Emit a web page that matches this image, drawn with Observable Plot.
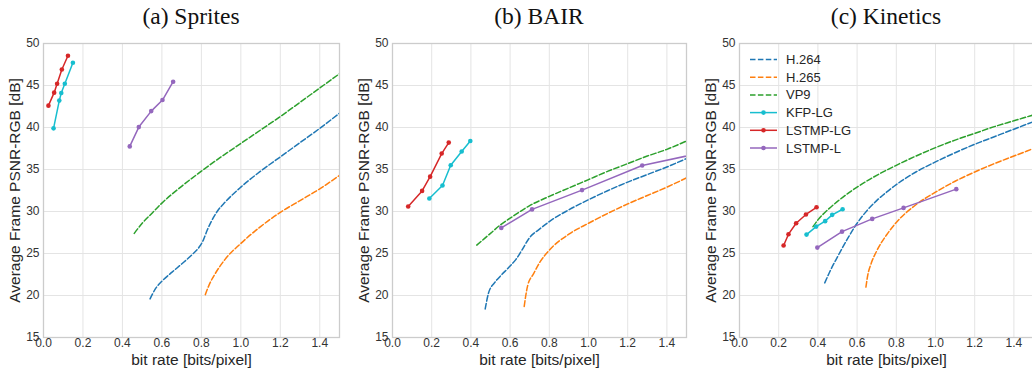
<!DOCTYPE html>
<html><head><meta charset="utf-8">
<script src="https://cdn.jsdelivr.net/npm/d3@7"></script>
<script src="https://cdn.jsdelivr.net/npm/@observablehq/plot@0.6"></script>
<style>
body{margin:0;background:#fff;}
#wrap{position:relative;width:1032px;height:368px;overflow:hidden;background:#fff;}
.panel{position:absolute;top:0;width:345px;height:368px;}
.title{font-family:"Liberation Serif",serif;font-size:23.5px;color:#111;text-align:center;height:30px;line-height:30px;box-sizing:border-box;padding-top:1px;white-space:nowrap;}
.panel svg{display:block;}
#legend{position:absolute;left:0;top:0;pointer-events:none;}
</style></head>
<body><div id="wrap"></div>
<script>
// ---- labels ----
const series = ["H.264", "H.265", "VP9", "KFP-LG", "LSTMP-LG", "LSTMP-L"];
const colors = ["#1f77b4", "#ff7f0e", "#2ca02c", "#17becf", "#d62728", "#9467bd"];
const dashed = [true, true, true, false, false, false];
const panelTitles = ["(a) Sprites", "(b) BAIR", "(c) Kinetics"];
const xLabel = "bit rate [bits/pixel]";
const yLabel = "Average Frame PSNR-RGB [dB]";
const xTicks = [0, 0.2, 0.4, 0.6, 0.8, 1.0, 1.2, 1.4];
const yTicks = [15, 20, 25, 30, 35, 40, 45, 50];

// ---- (a) Sprites: [bit rate, PSNR] ----
const spritesH264 = [[0.54,19.6],[0.57,20.9],[0.6,21.7],[0.65,22.75],[0.7,23.75],[0.75,24.8],[0.79,25.8],[0.81,26.6],[0.83,27.8],[0.85,28.8],[0.88,30.0],[0.92,31.1],[1.0,32.9],[1.1,34.8],[1.2,36.5],[1.3,38.2],[1.4,39.9],[1.5,41.7]];
const spritesH265 = [[0.82,20.1],[0.84,21.3],[0.87,22.6],[0.92,24.3],[1.0,26.2],[1.1,28.2],[1.2,29.9],[1.3,31.3],[1.4,32.7],[1.5,34.3]];
const spritesVP9 = [[0.46,27.4],[0.5,28.6],[0.55,29.8],[0.6,31.0],[0.7,33.0],[0.8,34.8],[0.9,36.5],[1.0,38.1],[1.1,39.7],[1.2,41.3],[1.3,43.0],[1.4,44.7],[1.5,46.4]];
const spritesKFP = [[0.051,39.9],[0.080,43.2],[0.090,44.1],[0.108,45.2],[0.149,47.7]];
const spritesLSTMPLG = [[0.025,42.6],[0.054,44.15],[0.069,45.2],[0.093,46.9],[0.124,48.55]];
const spritesLSTMPL = [[0.437,37.75],[0.483,40.05],[0.546,41.95],[0.603,43.27],[0.657,45.45]];

// ---- (b) BAIR ----
const bairH264 = [[0.473,18.4],[0.49,20.3],[0.52,21.5],[0.55,22.3],[0.6,23.5],[0.63,24.3],[0.66,25.4],[0.7,26.9],[0.75,27.9],[0.8,28.8],[0.9,30.2],[1.0,31.4],[1.1,32.5],[1.2,33.5],[1.3,34.4],[1.4,35.3],[1.5,36.3]];
const bairH265 = [[0.672,18.7],[0.68,20.0],[0.69,21.2],[0.72,22.6],[0.75,23.9],[0.8,25.4],[0.9,27.3],[1.0,28.6],[1.1,29.8],[1.2,30.9],[1.3,31.9],[1.4,32.9],[1.5,34.0]];
const bairVP9 = [[0.43,26.0],[0.5,27.4],[0.55,28.4],[0.6,29.2],[0.7,30.7],[0.8,31.8],[0.9,32.8],[1.0,33.8],[1.1,34.8],[1.2,35.7],[1.3,36.6],[1.4,37.4],[1.5,38.4]];
const bairKFP = [[0.188,31.55],[0.255,33.1],[0.297,35.5],[0.353,37.15],[0.397,38.4]];
const bairLSTMPLG = [[0.080,30.6],[0.151,32.45],[0.192,34.15],[0.251,36.9],[0.287,38.2]];
const bairLSTMPL = [[0.555,28.05],[0.712,30.25],[0.967,32.55],[1.274,35.48],[1.6,37.1]];

// ---- (c) Kinetics ----
const kineticsH264 = [[0.435,21.5],[0.46,22.8],[0.5,24.6],[0.55,26.7],[0.6,28.6],[0.65,30.1],[0.7,31.3],[0.75,32.3],[0.8,33.2],[0.9,34.7],[1.0,35.9],[1.1,37.0],[1.2,38.0],[1.3,38.9],[1.4,39.8],[1.5,40.7]];
const kineticsH265 = [[0.645,21.0],[0.655,22.5],[0.67,23.7],[0.7,25.3],[0.75,27.2],[0.8,28.7],[0.9,30.8],[1.0,32.3],[1.1,33.6],[1.2,34.7],[1.3,35.7],[1.4,36.6],[1.5,37.5]];
const kineticsVP9 = [[0.375,28.2],[0.4,29.0],[0.45,30.2],[0.5,31.2],[0.55,32.1],[0.6,32.9],[0.7,34.3],[0.8,35.5],[0.9,36.6],[1.0,37.6],[1.1,38.5],[1.2,39.3],[1.3,40.1],[1.4,40.8],[1.5,41.5]];
const kineticsKFP = [[0.342,27.25],[0.391,28.2],[0.437,28.85],[0.473,29.6],[0.526,30.27]];
const kineticsLSTMPLG = [[0.225,25.95],[0.250,27.3],[0.289,28.6],[0.339,29.65],[0.393,30.5]];
const kineticsLSTMPL = [[0.397,25.7],[0.523,27.6],[0.677,29.12],[0.837,30.43],[1.106,32.66]];

const panelData = [
  [spritesH264, spritesH265, spritesVP9, spritesKFP, spritesLSTMPLG, spritesLSTMPL],
  [bairH264, bairH265, bairVP9, bairKFP, bairLSTMPLG, bairLSTMPL],
  [kineticsH264, kineticsH265, kineticsVP9, kineticsKFP, kineticsLSTMPLG, kineticsLSTMPL]
];

// layout
const panelLeft = [0, 345, 690];
const mLeft = [43, 47, 49];
const mRight = [6, 4, 2];

const wrap = document.getElementById("wrap");
panelData.forEach((sets, p) => {
  const div = document.createElement("div");
  div.className = "panel";
  div.style.left = panelLeft[p] + "px";
  const t = document.createElement("div");
  t.className = "title";
  t.style.paddingLeft = mLeft[p] + "px";
  t.style.paddingRight = mRight[p] + "px";
  t.textContent = panelTitles[p];
  div.appendChild(t);

  const marks = [
    Plot.gridX(xTicks, {stroke: "#e4e4e4", strokeOpacity: 1, strokeWidth: 1}),
    Plot.gridY(yTicks, {stroke: "#e4e4e4", strokeOpacity: 1, strokeWidth: 1}),
    Plot.frame({stroke: "#cccccc", strokeWidth: 1.3}),
    Plot.axisX(xTicks, {tickSize: 0, tickPadding: 1, tickFormat: d3.format(".1f"), label: null, fontSize: 12, fill: "#333"}),
    Plot.axisY(yTicks, {tickSize: 0, tickPadding: 4, tickFormat: d3.format("d"), label: null, fontSize: 12, fill: "#333"}),
    Plot.text([xLabel], {frameAnchor: "bottom", lineAnchor: "middle", textAnchor: "middle", dy: 23, fontSize: 15.5, fill: "#262626", text: d => d}),
    Plot.text([yLabel], {frameAnchor: "left", lineAnchor: "middle", textAnchor: "middle", rotate: -90, dx: -28, fontSize: 15.5, fill: "#262626", text: d => d})
  ];
  sets.forEach((arr, i) => {
    marks.push(Plot.line(arr, {
      x: d => d[0], y: d => d[1], stroke: colors[i], strokeWidth: 1.5,
      strokeDasharray: dashed[i] ? "5.5,2.4" : null, curve: dashed[i] ? "monotone-x" : "linear", clip: true
    }));
    if (!dashed[i]) marks.push(Plot.dot(arr, {x: d => d[0], y: d => d[1], r: 2.3, fill: colors[i], stroke: "none", clip: true}));
  });

  const chart = Plot.plot({
    width: 345, height: 338,
    marginTop: 13, marginBottom: 31, marginLeft: mLeft[p], marginRight: mRight[p],
    style: {fontFamily: "'Liberation Sans', Arial, sans-serif", fontSize: "12px", background: "transparent", overflow: "visible"},
    x: {domain: [0, 1.5]},
    y: {domain: [15, 50]},
    marks
  });
  div.appendChild(chart);
  wrap.appendChild(div);
});

// legend (panel c)
const leg = d3.select(wrap).append("svg").attr("id", "legend").attr("width", 1032).attr("height", 368);
series.forEach((name, i) => {
  const y = 59.5 + i * 17.7;
  leg.append("line").attr("x1", 750).attr("x2", 777).attr("y1", y).attr("y2", y)
    .attr("stroke", colors[i]).attr("stroke-width", 1.5)
    .attr("stroke-dasharray", dashed[i] ? "5.5,2.4" : null);
  if (!dashed[i]) leg.append("circle").attr("cx", 763.5).attr("cy", y).attr("r", 2.3).attr("fill", colors[i]);
  leg.append("text").attr("x", 786).attr("y", y).attr("dy", "0.35em")
    .attr("font-family", "'Liberation Sans', Arial, sans-serif").attr("font-size", 13)
    .attr("fill", "#262626").text(name);
});
</script></body></html>
